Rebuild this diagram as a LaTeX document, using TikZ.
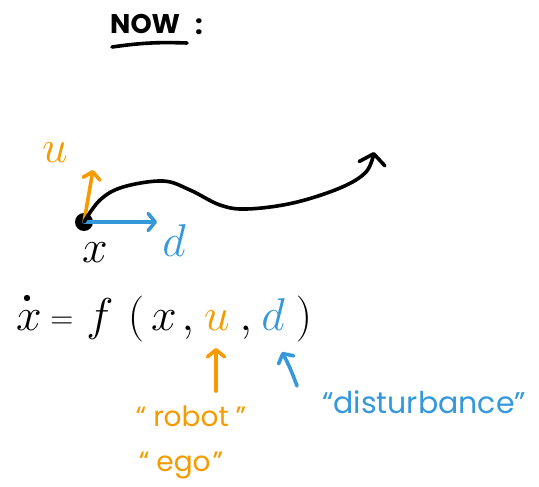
\documentclass[tikz,border=0pt]{standalone}
\usepackage{fix-cm}
\usepackage{fontspec}
\setmainfont{Poppins}
\usetikzlibrary{arrows.meta}
\definecolor{hor}{RGB}{245,155,0}
\definecolor{hbl}{RGB}{52,152,219}
\begin{document}
\begin{tikzpicture}[x=1pt,y=-1pt,
  ink/.style={line width=3.6pt, line cap=round, line join=round},
  eqt/.style={inner sep=0pt, anchor=base, font=\fontsize{46}{50}\selectfont},
  lab/.style={inner sep=0pt, anchor=base, font=\fontsize{28}{32}\selectfont},
  tipS/.style={-{Straight Barb[length=7pt,width=17pt,round]}},
  tipB/.style={-{Straight Barb[length=10pt,width=26pt,round]}}]
\useasboundingbox (0,0) rectangle (539,487);
% title
\node[inner sep=0pt, anchor=base west, font=\fontsize{27}{30}\selectfont\bfseries] (now) at (110,34) {NOW};
\node[inner sep=0pt, anchor=base, font=\fontsize{27}{30}\selectfont\bfseries] (colon) at (199,35) {:};
\coordinate (ul1) at (112,47);
\coordinate (ul2) at (187,43);
\draw[ink] (ul1) to[bend left=5] (ul2);
% state point
\node[circle, fill=black, inner sep=0pt, minimum size=18pt] (dot) at (84,222) {};
\coordinate (uend) at (93,170);
\coordinate (dend) at (157,222);
\draw[ink, hor, tipS] (dot.center) -- (uend);
\draw[ink, hbl, tipS] (dot.center) -- (dend);
\node[eqt, text=hor] (ulab) at (55,162) {$u$};
\node[eqt] (xlab) at (95,262) {$x$};
\node[eqt, text=hbl] (dlab) at (174,256) {$d$};
% trajectory
\coordinate (c1) at (100,200);
\coordinate (c2) at (123,187);
\coordinate (c3) at (163,181);
\coordinate (c4) at (190,190);
\coordinate (c5) at (220,205);
\coordinate (c6) at (247,209);
\coordinate (c7) at (293,203);
\coordinate (c8) at (340,188);
\coordinate (c9) at (366,172);
\coordinate (c10) at (374,152);
\draw[ink, tipB] plot[smooth, tension=0.6] coordinates {(dot.center) (c1) (c2) (c3) (c4) (c5) (c6) (c7) (c8) (c9) (c10)};
% equation
\node[eqt] (exd) at (29,330) {$x$};
\fill (27,298) circle[radius=3.2pt];
\node[eqt, font=\fontsize{32}{36}\selectfont] (eeq) at (62,328) {$=$};
\node[eqt] (ef) at (100,330) {$f$};
\node[eqt] (elp) at (136,330) {$($};
\node[eqt] (ex) at (164,330) {$x$};
\node[eqt] (ec1) at (188,330) {$,$};
\node[eqt, text=hor] (eu) at (217,330) {$u$};
\node[eqt] (ec2) at (246,330) {$,$};
\node[eqt, text=hbl] (ed) at (273,330) {$d$};
\node[eqt] (erp) at (304,330) {$)$};
% annotations
\node[lab, text=hor] (robot) at (191,426) {“\hspace{7pt}robot\hspace{7pt}”};
\node[lab, text=hor] (ego) at (181,471) {“\hspace{7pt}ego\hspace{2pt}”};
\node[lab, text=hbl, font=\fontsize{30}{34}\selectfont] (dist) at (424,413) {“disturbance”};
\coordinate (utail) at (216,391);
\coordinate (utip) at (216,348);
\draw[ink, hor, tipS] (utail) -- (utip);
\coordinate (dtail) at (297,386);
\coordinate (dtip) at (282,352);
\draw[ink, hbl, tipS] (dtail) to[bend right=4] (dtip);
\end{tikzpicture}
\end{document}
